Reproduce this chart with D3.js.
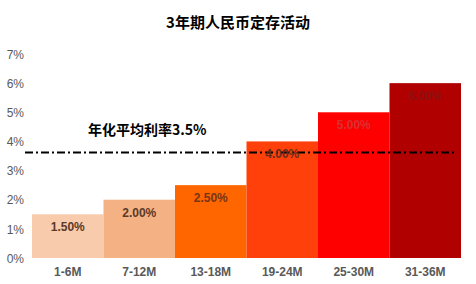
<!DOCTYPE html>
<html><head><meta charset="utf-8">
<script src="https://cdn.jsdelivr.net/npm/d3@7"></script>
<style>html,body{margin:0;padding:0;background:#fff;}svg{display:block;}</style>
</head><body>
<svg id="c" width="476" height="284"></svg>
<script>
const categories = ["1-6M","7-12M","13-18M","19-24M","25-30M","31-36M"];
const values = [1.5, 2.0, 2.5, 4.0, 5.0, 6.0];
const valueLabels = ["1.50%","2.00%","2.50%","4.00%","5.00%","6.00%"];
const barColors = ["#f8cbad","#f4b183","#ff6600","#ff400a","#ff0000","#b00000"];
const labelColors = ["#5a3a2a","#5a3a2a","#7a3418","#6a2c1c","#d83030","#8e1010"];
const yTicks = [0,1,2,3,4,5,6,7];
const avgValue = 3.62;
const avgLabel = "年化平均利率3.5%";
const title = "3年期人民币定存活动";

const svg = d3.select("#c");
const font = "'Microsoft YaHei','Noto Sans CJK SC',Arial,'Liberation Sans',sans-serif";

const x = d3.scaleBand().domain(categories).range([32, 461]).padding(0);
const y = d3.scaleLinear().domain([0, 7]).range([258, 54]);

svg.append("text").attr("x", 238).attr("y", 28).attr("text-anchor", "middle")
  .attr("font-family", font).attr("font-weight", "bold").attr("font-size", 15)
  .attr("fill", "#000").text(title);

// y axis
const ya = svg.append("g").attr("transform", "translate(24,0)")
  .call(d3.axisLeft(y).tickValues(yTicks).tickFormat(d => d + "%").tickSize(0).tickPadding(0));
ya.select(".domain").remove();
ya.selectAll("text").attr("font-family", "Arial,'Liberation Sans',sans-serif")
  .attr("font-size", 12).attr("fill", "#595959").attr("text-anchor", "end").attr("dy", "0.35em");

// bars
svg.selectAll("rect.bar").data(values).join("rect").attr("class", "bar")
  .attr("x", (d, i) => x(categories[i]))
  .attr("y", d => y(d))
  .attr("width", x.bandwidth())
  .attr("height", d => y(0) - y(d))
  .attr("fill", (d, i) => barColors[i]);

// x axis
const xa = svg.append("g").attr("transform", "translate(0,258)")
  .call(d3.axisBottom(x).tickSize(0).tickPadding(9));
xa.select(".domain").remove();
xa.selectAll("text").attr("font-family", "Arial,'Liberation Sans',sans-serif")
  .attr("font-size", 12).attr("font-weight", "bold").attr("fill", "#595959").attr("dy", "0.71em");

// average line
svg.append("line").attr("x1", 25).attr("x2", 457)
  .attr("y1", y(avgValue)).attr("y2", y(avgValue))
  .attr("stroke", "#000").attr("stroke-width", 2)
  .attr("stroke-dasharray", "8,3,2,3");

svg.append("text").attr("x", 88).attr("y", 135)
  .attr("font-family", font).attr("font-weight", "bold").attr("font-size", 14)
  .attr("fill", "#000").text(avgLabel);

// value labels
svg.selectAll("text.vl").data(values).join("text").attr("class", "vl")
  .attr("x", (d, i) => x(categories[i]) + x.bandwidth() / 2)
  .attr("y", d => y(d) + 17)
  .attr("text-anchor", "middle")
  .attr("font-family", "Arial,'Liberation Sans',sans-serif")
  .attr("font-size", 12).attr("font-weight", "bold")
  .attr("fill", (d, i) => labelColors[i])
  .text((d, i) => valueLabels[i]);
</script>
</body></html>
